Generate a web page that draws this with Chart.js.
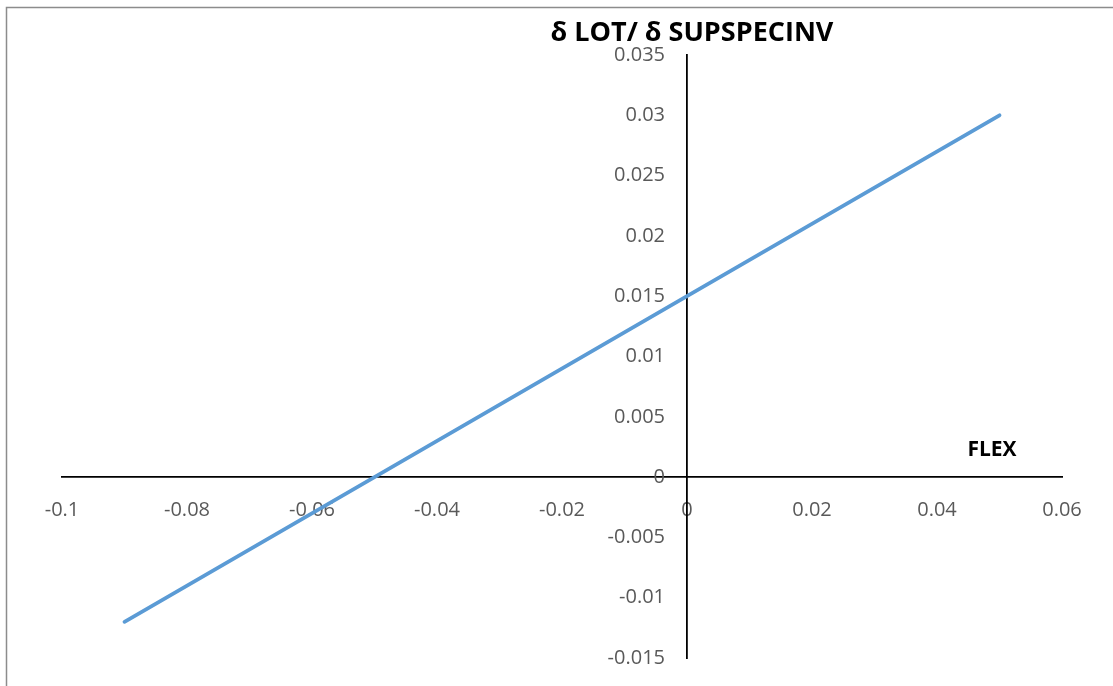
<!DOCTYPE html>
<html>
<head>
<meta charset="utf-8">
<script src="https://cdn.jsdelivr.net/npm/chart.js@4/dist/chart.umd.min.js"></script>
<style>
  html, body { margin: 0; padding: 0; background: #fff; }
  #wrap { position: relative; width: 1113px; height: 686px; overflow: hidden; }
  canvas { display: block; }
</style>
</head>
<body>
<div id="wrap"><canvas id="c" width="1113" height="686"></canvas></div>
<script>
// Data
const flexValues = [-0.09, -0.05, 0, 0.05];
const lotValues = [-0.012, 0, 0.015, 0.03];
const xTickValues = [-0.1, -0.08, -0.06, -0.04, -0.02, 0, 0.02, 0.04, 0.06];
const yTickValues = [-0.015, -0.01, -0.005, 0, 0.005, 0.01, 0.015, 0.02, 0.025, 0.03, 0.035];
const chartTitle = 'δ LOT/ δ SUPSPECINV';
const xAxisTitle = 'FLEX';

const points = flexValues.map((x, i) => ({ x: x, y: lotValues[i] }));

const Y_LABEL_GAP = 22;

const decor = {
  id: 'decor',
  beforeDraw(chart) {
    const ctx = chart.ctx;
    ctx.save();
    ctx.strokeStyle = '#8c8c8c';
    ctx.lineWidth = 1.5;
    ctx.beginPath();
    ctx.moveTo(6.5, 700);
    ctx.lineTo(6.5, 7.5);
    ctx.lineTo(1120, 7.5);
    ctx.stroke();
    ctx.restore();
    // Chart.js ignores tick padding for value-positioned y axes: shift labels left
    const ys = chart.scales.y;
    const items = ys.getLabelItems();
    if (!ys._shifted) {
      items.forEach(it => { it.options.translation[0] -= Y_LABEL_GAP; });
      ys._shifted = true;
    }
  },
  afterDraw(chart) {
    const ctx = chart.ctx;
    ctx.save();
    ctx.fillStyle = '#000';
    ctx.textBaseline = 'middle';
    ctx.textAlign = 'center';
    ctx.font = 'bold 27px "Open Sans"';
    ctx.fillText(chartTitle, 692, 33);
    ctx.font = 'bold 21px "Open Sans"';
    ctx.fillText(xAxisTitle, 992, 450);
    ctx.restore();
  }
};

new Chart(document.getElementById('c'), {
  type: 'scatter',
  data: {
    datasets: [{
      data: points,
      showLine: true,
      borderColor: '#5B9BD5',
      backgroundColor: '#5B9BD5',
      borderWidth: 3.8,
      borderCapStyle: 'round',
      pointRadius: 0,
      pointHoverRadius: 0,
      tension: 0
    }]
  },
  options: {
    responsive: false,
    animation: false,
    devicePixelRatio: 1,
    layout: { autoPadding: false, padding: { left: 62, right: 51, top: 55, bottom: 28 } },
    plugins: { legend: { display: false }, tooltip: { enabled: false }, title: { display: false } },
    scales: {
      x: {
        type: 'linear',
        position: { y: 0 },
        min: -0.1, max: 0.06,
        afterBuildTicks: (s) => { s.ticks = xTickValues.map(v => ({ value: v })); },
        grid: { display: false, drawTicks: false },
        border: { display: true, color: '#000', width: 1.8 },
        ticks: {
          color: '#595959',
          font: { family: 'Open Sans', size: 20 },
          padding: 21,
          maxRotation: 0,
          autoSkip: false,
          callback: (v) => String(v)
        }
      },
      y: {
        type: 'linear',
        position: { x: 0 },
        min: -0.015, max: 0.035,
        afterBuildTicks: (s) => { s.ticks = yTickValues.map(v => ({ value: v })); },
        grid: { display: false, drawTicks: false },
        border: { display: true, color: '#000', width: 1.8 },
        ticks: {
          color: '#595959',
          font: { family: 'Open Sans', size: 20 },
          padding: 0,
          autoSkip: false,
          callback: (v) => String(v)
        }
      }
    }
  },
  plugins: [decor]
});
</script>
</body>
</html>
